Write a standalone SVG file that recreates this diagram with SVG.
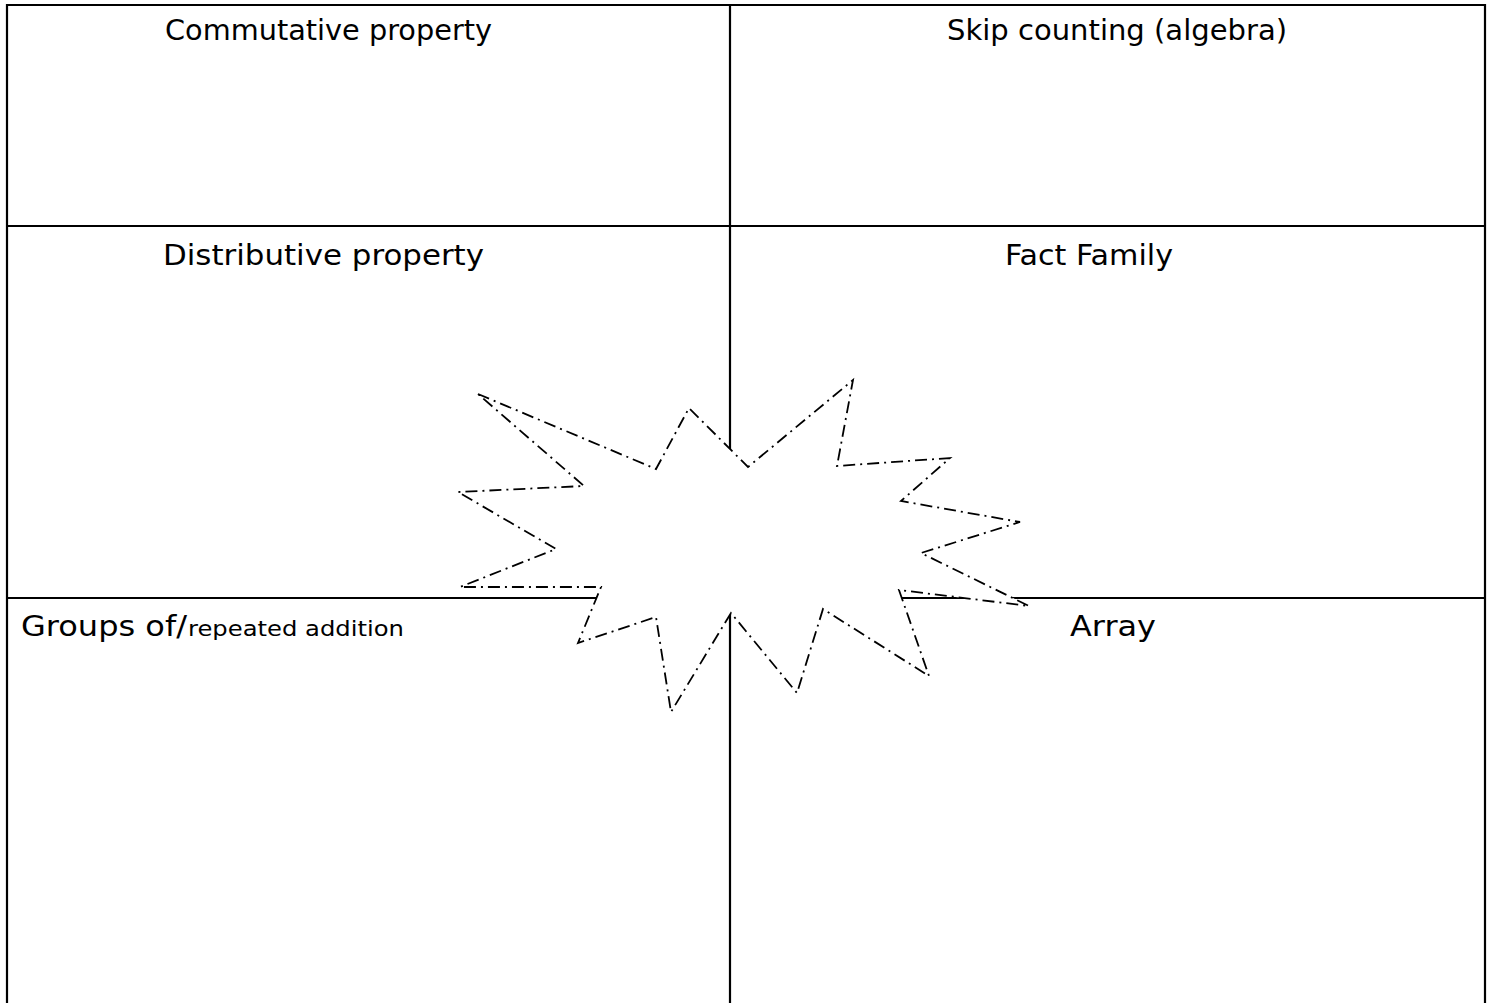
<svg xmlns="http://www.w3.org/2000/svg" width="1490" height="1003" viewBox="0 0 1490 1003">
<style>
.grid{stroke:#000;stroke-width:2.2;fill:none}
.lbl{font-family:"Comic Sans MS","DejaVu Sans",sans-serif;font-size:29px;fill:#000}
.sm{font-size:22px}
.star{fill:#fff;stroke:#000;stroke-width:1.8;stroke-dasharray:12 5 2 5;stroke-linejoin:miter}
</style>
<rect width="1490" height="1003" fill="#fff"/>
<g id="grid">
<line class="grid" x1="7" y1="5" x2="1485" y2="5"/>
<line class="grid" x1="7" y1="4" x2="7" y2="1003"/>
<line class="grid" x1="1485" y1="4" x2="1485" y2="1003"/>
<line class="grid" x1="730" y1="5" x2="730" y2="1003"/>
<line class="grid" x1="7" y1="226" x2="1485" y2="226"/>
<line class="grid" x1="7" y1="598" x2="1485" y2="598"/>
</g>
<g id="cell-commutative"><text class="lbl" x="165" y="40" textLength="327" lengthAdjust="spacingAndGlyphs">Commutative property</text></g>
<g id="cell-skip"><text class="lbl" x="947" y="40" textLength="340" lengthAdjust="spacingAndGlyphs">Skip counting (algebra)</text></g>
<g id="cell-distributive"><text class="lbl" x="163" y="265" textLength="321" lengthAdjust="spacingAndGlyphs">Distributive property</text></g>
<g id="cell-fact"><text class="lbl" x="1005" y="265" textLength="168" lengthAdjust="spacingAndGlyphs">Fact Family</text></g>
<g id="cell-groups"><text class="lbl" x="21" y="636"><tspan textLength="166" lengthAdjust="spacingAndGlyphs">Groups of/</tspan><tspan class="sm" x="188" textLength="216" lengthAdjust="spacingAndGlyphs">repeated addition</tspan></text></g>
<g id="cell-array"><text class="lbl" x="1070" y="636" textLength="86" lengthAdjust="spacingAndGlyphs">Array</text></g>
<g id="starburst">
<polygon class="star" points="478,394 656,469 689,408 748,467 853,380 837,466 950,458 901,501 1020,522 921,553 1029,606 899,590 929,676 823,609 797,693 731,613 671,712 656,617 578,643 601,587 460,587 556,549 458,492 584,486"/>
</g>
</svg>
